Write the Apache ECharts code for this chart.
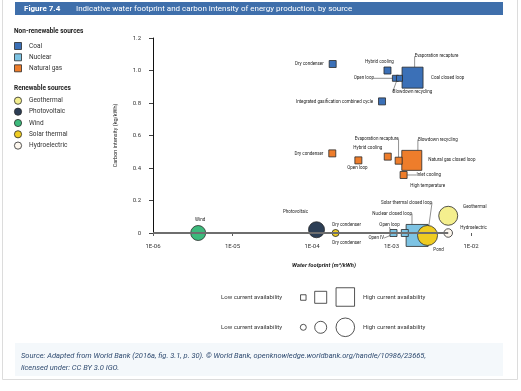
<!DOCTYPE html>
<html><head><meta charset="utf-8">
<script src="https://cdn.jsdelivr.net/npm/echarts@6/dist/echarts.min.js"></script>
<style>html,body{margin:0;padding:0;background:#fff}#c{width:521px;height:391px}</style>
</head><body><div id="c"></div>
<script>
// ---- axis ----
const xMin = 1e-6, xMax = 1e-2;
const yMin = 0, yMax = 1.2, yStep = 0.2;

// ---- Coal (squares) ----
const coalNames = ['Dry condenser','Hybrid cooling','Open loop','Coal closed loop','Evaporation recapture','Blowdown recycling','Integrated gasification combined cycle'];
const coalX = [1.82e-4, 8.9e-4, 1.12e-3, 1.84e-3, 1.84e-3, 1.26e-3, 7.6e-4];
const coalY = [1.04, 1.0, 0.952, 0.956, 0.956, 0.952, 0.81];
const coalAvail = [7, 7, 6, 4, 21, 6, 7];

// ---- Natural gas (squares) ----
const gasNames = ['Dry condenser','Open loop','Hybrid cooling','Natural gas closed loop','Blowdown recycling','Evaporation recapture','High temperature','Inlet cooling'];
const gasX = [1.8e-4, 3.83e-4, 8.97e-4, 1.8e-3, 1.8e-3, 1.23e-3, 1.42e-3, 1.42e-3];
const gasY = [0.49, 0.447, 0.47, 0.447, 0.447, 0.445, 0.357, 0.357];
const gasAvail = [7, 7, 7, 4, 20, 7, 4, 7];

// ---- Nuclear (squares) ----
const nucNames = ['Open IV','Open loop','Nuclear closed loop',''];
const nucX = [1.06e-3, 1.06e-3, 2.1e-3, 1.47e-3];
const nucY = [0, 0, -0.015, 0];
const nucAvail = [4, 7, 22, 7];

// ---- Geothermal (circles) ----
const geoNames = ['Dry condenser','Geothermal'];
const geoX = [1.98e-4, 5.17e-3];
const geoY = [0, 0.106];
const geoAvail = [6, 19];

// ---- Photovoltaic ----
const pvNames = ['Photovoltaic'];
const pvX = [1.14e-4];
const pvY = [0.02];
const pvAvail = [16];

// ---- Wind ----
const windNames = ['Wind'];
const windX = [3.7e-6];
const windY = [0];
const windAvail = [15];

// ---- Solar thermal ----
const solNames = ['Dry condenser','Pond','Solar thermal closed loop'];
const solX = [1.98e-4, 2.84e-3, 2.84e-3];
const solY = [0, -0.015, -0.015];
const solAvail = [7, 4, 20];

// ---- Hydroelectric ----
const hydNames = ['Hydroelectric'];
const hydX = [5.17e-3];
const hydY = [0];
const hydAvail = [8.5];

// ---- label placement (position, dx, dy, leader line) ----
const coalLab = [['left',0,0,0],['top',-8,3,0],['left',-13,0,1],['right',11,0,0],['top',24,-3,1],['bottom',13,3,1],['left',0,0,0]];
const gasLab = [['left',0,0,0],['bottom',-1,-4,0],['top',-20,3,0],['right',9,0,0],['top',26,-3,1],['top',-22,-10,1],['bottom',24,1,0],['right',4,0,1]];
const nucLab = [['left',-2,5,1],['top',-4,3,1],['top',-25,-3,1],null];
const geoLab = [['bottom',11,-1,0],['right',0,-9,0]];
const pvLab = [['top',-21,-2,0]];
const windLab = [['top',2,2,0]];
const solLab = [['top',11,3,0],['bottom',11,5,0],['top',-21,-15,1]];
const hydLab = [['right',2.5,-4.7,0]];

const C = {
  coal:'#3b70b7', nuc:'#7dc3e3', gas:'#ee7d2b', geo:'#f4ef8e', pv:'#2c3e55', wind:'#3dba7c', sol:'#efcc22', hyd:'#fdf7ee'
};
const FONT = 'Roboto';
const layouts = [];

function mk(names, xs, ys, sizes, labs, symbol, color) {
  layouts.push(labs);
  return {
    type: 'scatter', symbol: symbol, silent: true, clip: false,
    itemStyle: { color: color, borderColor: '#2a2a2a', borderWidth: 0.8, opacity: 1 },
    label: { show: true, fontSize: 4.5, color: '#222', fontFamily: FONT, formatter: '{b}', distance: 5 },
    labelLine: { show: false, length2: 0, lineStyle: { color: '#222', width: 0.5 } },
    labelLayout: function (p) {
      const L = layouts[p.seriesIndex - 1] && layouts[p.seriesIndex - 1][p.dataIndex];
      return L ? { dx: L[1], dy: L[2] } : {};
    },
    emphasis: { disabled: true },
    data: names.map((n, i) => ({
      name: n, value: [xs[i], ys[i]], symbolSize: sizes[i],
      label: { show: !!labs[i], position: labs[i] ? labs[i][0] : 'top' },
      labelLine: { show: !!(labs[i] && labs[i][3]) }
    }))
  };
}

const series = [
  { type: 'line', silent: true, symbol: 'none', lineStyle: { color: '#6e6e6e', width: 2 },
    data: [[xMin, 0], [hydX[0], 0]] },
  mk(coalNames, coalX, coalY, coalAvail, coalLab, 'rect', C.coal),
  mk(gasNames, gasX, gasY, gasAvail, gasLab, 'rect', C.gas),
  mk(nucNames, nucX, nucY, nucAvail, nucLab, 'rect', C.nuc),
  mk(geoNames, geoX, geoY, geoAvail, geoLab, 'circle', C.geo),
  mk(pvNames, pvX, pvY, pvAvail, pvLab, 'circle', C.pv),
  mk(windNames, windX, windY, windAvail, windLab, 'circle', C.wind),
  mk(solNames, solX, solY, solAvail, solLab, 'circle', C.sol),
  mk(hydNames, hydX, hydY, hydAvail, hydLab, 'circle', C.hyd)
];

function txt(t, x, y, size, opts) {
  opts = opts || {};
  return { type: 'text', silent: true, z: 100, style: {
    text: t, x: x, y: y, fill: opts.fill || '#333',
    font: (opts.style || '') + ' ' + (opts.weight || 'normal') + ' ' + size + 'px ' + FONT,
    align: opts.align || 'left', verticalAlign: 'middle',
    textAlign: opts.align || 'left', textVerticalAlign: 'middle' } };
}
function sq(cx, cy, s, fill) {
  return { type: 'rect', silent: true, z: 100, shape: { x: cx - s / 2, y: cy - s / 2, width: s, height: s },
    style: { fill: fill, stroke: '#2a2a2a', lineWidth: 0.8 } };
}
function ci(cx, cy, r, fill) {
  return { type: 'circle', silent: true, z: 100, shape: { cx: cx, cy: cy, r: r },
    style: { fill: fill, stroke: '#2a2a2a', lineWidth: 0.8 } };
}

const legendNon = [['Coal', C.coal], ['Nuclear', C.nuc], ['Natural gas', C.gas]];
const legendRen = [['Geothermal', C.geo], ['Photovoltaic', C.pv], ['Wind', C.wind], ['Solar thermal', C.sol], ['Hydroelectric', C.hyd]];
const nonY = [46, 57.3, 68.3];
const renY = [100.7, 111.7, 123, 134.3, 145.6];

const graphic = [
  { type: 'rect', silent: true, z: 0, shape: { x: 2.5, y: -2, width: 515, height: 381.5 }, style: { fill: 'none', stroke: '#dcdcdc', lineWidth: 1 } },
  { type: 'rect', silent: true, z: 1, shape: { x: 15, y: 2, width: 488, height: 13 }, style: { fill: '#3f6fab' } },
  txt('Figure 7.4', 24, 8.7, 8, { fill: '#fff', weight: 'bold' }),
  txt('Indicative water footprint and carbon intensity of energy production, by source', 76, 8.7, 8, { fill: '#fff' }),
  txt('Non-renewable sources', 14, 31.7, 6.5, { weight: 'bold', fill: '#222' }),
  txt('Renewable sources', 14, 88.3, 6.5, { weight: 'bold', fill: '#222' }),
  { type: 'rect', silent: true, z: 1, shape: { x: 15, y: 343, width: 488, height: 33 }, style: { fill: '#f4f8fb' } },
  txt('Source: Adapted from World Bank (2016a, fig. 3.1, p. 30). © World Bank, openknowledge.worldbank.org/handle/10986/23665,', 21, 355.7, 7.5, { style: 'italic', fill: '#2f4b70' }),
  txt('licensed under: CC BY 3.0 IGO.', 21, 368.3, 7.5, { style: 'italic', fill: '#2f4b70' }),
  txt('Low current availability', 221, 297.3, 6, {}),
  txt('High current availability', 363, 297.3, 6, {}),
  txt('Low current availability', 221, 327.3, 6, {}),
  txt('High current availability', 363, 327.3, 6, {}),
  sq(303.3, 297.5, 5.5, '#fff'), sq(320.7, 297.3, 12, '#fff'), sq(345.3, 297, 18.5, '#fff'),
  ci(303.3, 327.3, 3, '#fff'), ci(320.7, 327.3, 6, '#fff'), ci(345.3, 327.3, 9.3, '#fff')
];
legendNon.forEach((d, i) => { graphic.push(sq(18, nonY[i], 7, d[1])); graphic.push(txt(d[0], 29, nonY[i], 6.5, { fill: '#333' })); });
legendRen.forEach((d, i) => { graphic.push(ci(18, renY[i], 3.6, d[1])); graphic.push(txt(d[0], 29, renY[i], 6.5, { fill: '#333' })); });

const chart = echarts.init(document.getElementById('c'), null, { renderer: 'canvas' });
chart.setOption({
  animation: false,
  backgroundColor: '#fff',
  textStyle: { fontFamily: FONT },
  grid: { left: 153, right: 50, top: 38, bottom: 158, containLabel: false, outerBoundsMode: 'none' },
  xAxis: {
    type: 'log', logBase: 10, min: xMin, max: xMax,
    name: 'Water footprint (m³/kWh)', nameLocation: 'middle', nameGap: 30,
    nameTextStyle: { fontSize: 5.8, fontWeight: 'bold', fontStyle: 'italic', color: '#222', padding: [0, 0, 0, 24] },
    axisLine: { show: false },
    axisTick: { show: true, length: 3, lineStyle: { color: '#333', width: 0.8 } },
    minorTick: { show: false },
    splitLine: { show: false },
    axisLabel: { fontSize: 6, color: '#333', margin: 10,
      formatter: v => '1E-' + String(-Math.round(Math.log10(v))).padStart(2, '0') }
  },
  yAxis: {
    type: 'value', min: yMin, max: yMax, interval: yStep,
    name: 'Carbon intensity (kg/kWh)', nameLocation: 'middle', nameGap: 34, nameRotate: 90,
    nameTextStyle: { fontSize: 5.5, color: '#222' },
    axisLine: { show: true, lineStyle: { color: '#111', width: 1 } },
    axisTick: { show: true, length: 4, lineStyle: { color: '#111', width: 0.8 } },
    splitLine: { show: false },
    axisLabel: { fontSize: 6, color: '#333', margin: 12, formatter: v => v === 0 ? '0' : v.toFixed(1) }
  },
  graphic: graphic,
  series: series
});
</script></body></html>
